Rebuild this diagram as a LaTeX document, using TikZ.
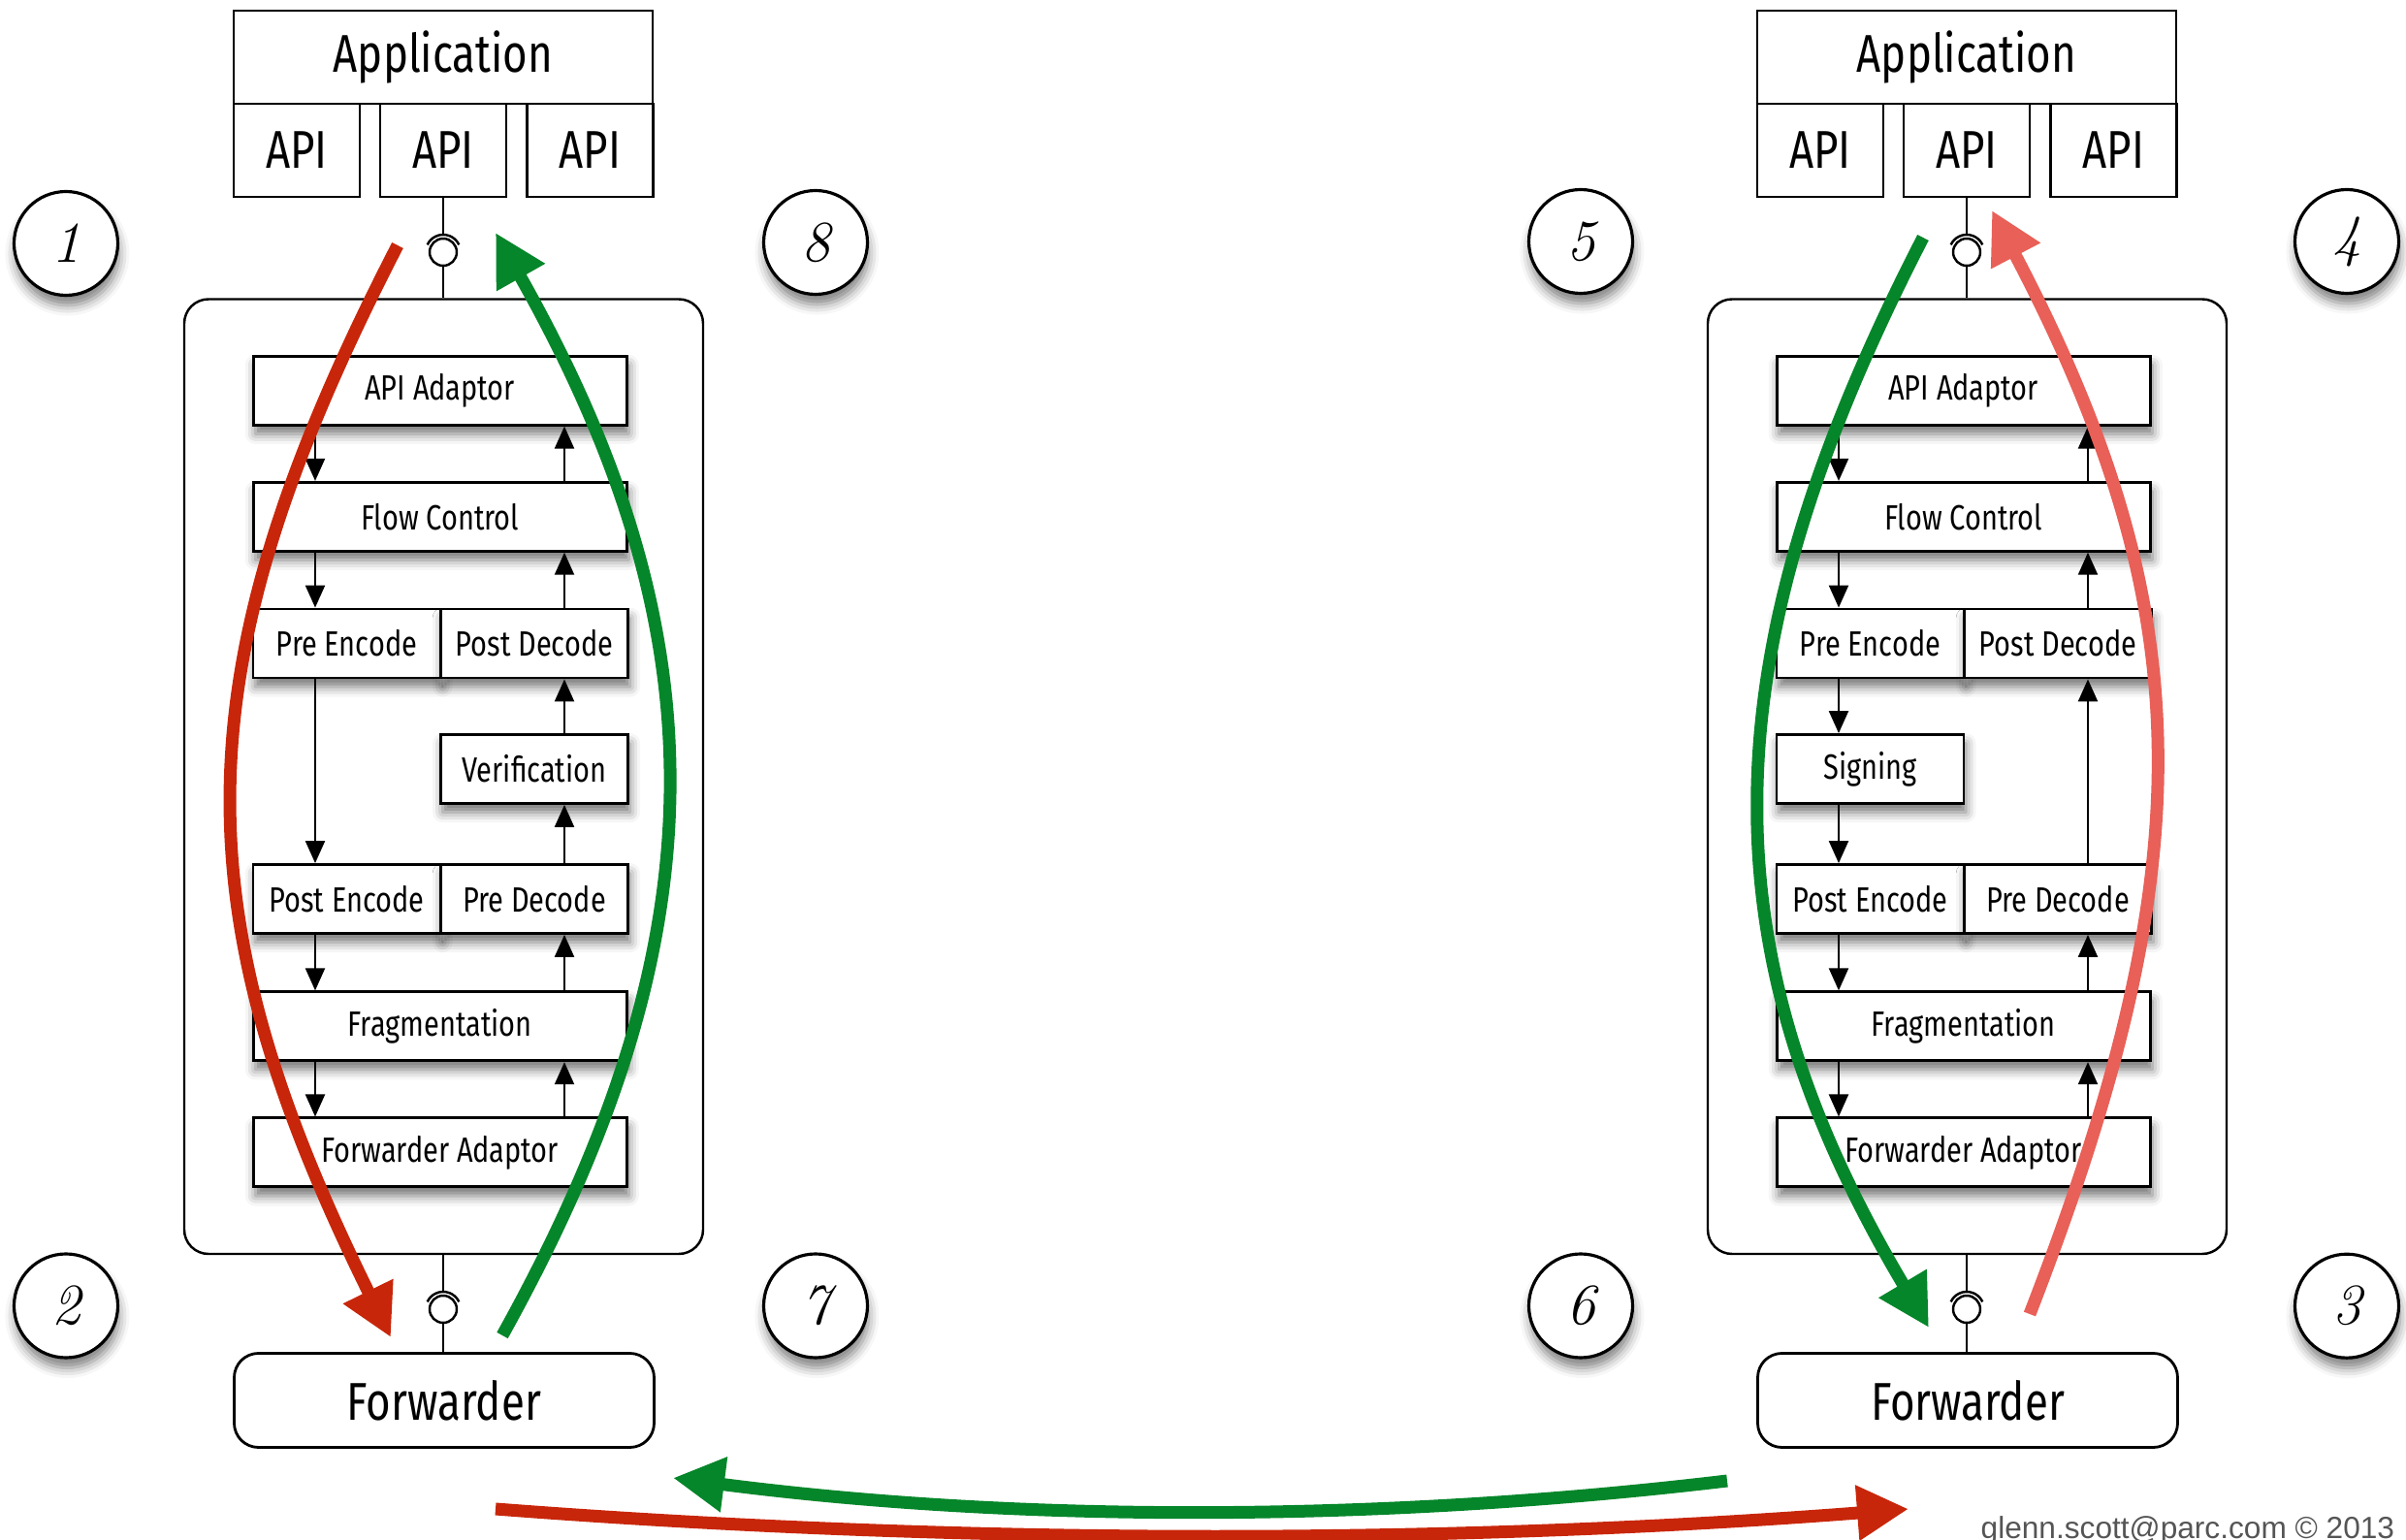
\documentclass[tikz,border=0pt]{standalone}
\usepackage{fontspec}
\usetikzlibrary{arrows.meta,shadows.blur}

\newfontfamily\labelfont[FakeStretch=0.8]{Fira Sans}
\newfontfamily\notefont{Liberation Sans}
\newcommand{\bigfont}{\labelfont\fontsize{15.6}{18}\selectfont}
\newcommand{\layerfont}{\labelfont\fontsize{10.3}{12}\selectfont}
\newcommand{\numfont}{\fontsize{17}{20}\selectfont\itshape}

\definecolor{sendred}{RGB}{200,38,10}
\definecolor{backgreen}{RGB}{5,134,42}
\definecolor{softred}{RGB}{232,96,88}
\definecolor{notegray}{RGB}{85,85,85}

\begin{document}
\begin{tikzpicture}[
appbox/.style={
  draw,
  line width=0.8pt,
  fill=white,
  inner sep=0pt,
  font=\bigfont
},
layer/.style={
  draw,
  line width=0.8pt,
  fill=white,
  inner sep=0pt,
  minimum height=0.71cm,
  font=\layerfont,
  blur shadow={shadow xshift=0.6pt,shadow yshift=-2.6pt,shadow blur radius=3pt,shadow opacity=55}
},
widelayer/.style={layer,minimum width=3.85cm},
halflayer/.style={layer,minimum width=1.93cm},
hold/.style={draw,line width=0.7pt,rounded corners=0.25cm,minimum width=5.35cm,minimum height=9.845cm},
plug/.style={circle,draw,line width=0.7pt,minimum size=0.28cm,inner sep=0pt},
wire/.style={line width=0.7pt},
flow/.style={line width=0.6pt,-{Triangle[length=0.23cm,width=0.2cm]}},
stepnum/.style={
  circle,
  draw,
  line width=0.9pt,
  fill=white,
  minimum size=1.07cm,
  inner sep=0pt,
  font=\numfont,
  blur shadow={shadow xshift=0.4pt,shadow yshift=-3pt,shadow blur radius=3pt,shadow opacity=50}
},
trip/.style={line width=0.13cm,-{Triangle[length=0.53cm,width=0.54cm]}}
]

\useasboundingbox (0,0) rectangle (24.81,-15.88);

% left host
\node (lhold) at (4.575,-8.0075) [hold] {};

\node (lapiad) at (4.537,-4.027) [widelayer] {API Adaptor};
\node (lflow) at (4.537,-5.328) [widelayer] {Flow Control};
\node (lpreenc) at (3.575,-6.635) [halflayer] {Pre Encode};
\node (lpostdec) at (5.51,-6.635) [halflayer] {Post Decode};
\node (lverify) at (5.51,-7.93) [halflayer] {Verification};
\node (lpostenc) at (3.575,-9.27) [halflayer] {Post Encode};
\node (lpredec) at (5.51,-9.27) [halflayer] {Pre Decode};
\node (lfrag) at (4.537,-10.583) [widelayer] {Fragmentation};
\node (lfwdad) at (4.537,-11.884) [widelayer] {Forwarder Adaptor};

\coordinate (ldown) at (3.25,0);
\coordinate (lup) at (5.82,0);

\draw [flow] (lapiad.south -| ldown) -- (lflow.north -| ldown);
\draw [flow] (lflow.south -| ldown) -- (lpreenc.north -| ldown);
\draw [flow] (lpreenc.south -| ldown) -- (lpostenc.north -| ldown);
\draw [flow] (lpostenc.south -| ldown) -- (lfrag.north -| ldown);
\draw [flow] (lfrag.south -| ldown) -- (lfwdad.north -| ldown);

\draw [flow] (lfwdad.north -| lup) -- (lfrag.south -| lup);
\draw [flow] (lfrag.north -| lup) -- (lpredec.south -| lup);
\draw [flow] (lpredec.north -| lup) -- (lverify.south -| lup);
\draw [flow] (lverify.north -| lup) -- (lpostdec.south -| lup);
\draw [flow] (lpostdec.north -| lup) -- (lflow.south -| lup);
\draw [flow] (lflow.north -| lup) -- (lapiad.south -| lup);

\node (lapp) at (4.57,-0.59) [appbox,minimum width=4.32cm,minimum height=0.96cm] {Application};
\node (lapiA) at (3.06,-1.55) [appbox,minimum width=1.3cm,minimum height=0.96cm] {API};
\node (lapiB) at (4.57,-1.55) [appbox,minimum width=1.3cm,minimum height=0.96cm] {API};
\node (lapiC) at (6.085,-1.55) [appbox,minimum width=1.3cm,minimum height=0.96cm] {API};

\node (lfwd) at (4.58,-14.44) [appbox,rounded corners=0.25cm,minimum width=4.33cm,minimum height=0.97cm] {Forwarder};

\node (lplugT) at (4.57,-2.60) [plug] {};
\draw [wire] (lapiB.south) -- ([yshift=0.18cm]lplugT.center);
\draw [wire] ([shift={(25:0.18)}]lplugT.center) arc (25:155:0.18);
\draw [wire] (lplugT.south) -- (lplugT.south |- lhold.north);

\node (lplugB) at (4.57,-13.50) [plug] {};
\draw [wire] (lplugB.center |- lhold.south) -- ([yshift=0.18cm]lplugB.center);
\draw [wire] ([shift={(25:0.18)}]lplugB.center) arc (25:155:0.18);
\draw [wire] (lplugB.south) -- (lplugB.south |- lfwd.north);

% right host
\node (rhold) at (20.285,-8.0075) [hold] {};

\node (rapiad) at (20.247,-4.027) [widelayer] {API Adaptor};
\node (rflow) at (20.247,-5.328) [widelayer] {Flow Control};
\node (rpreenc) at (19.285,-6.635) [halflayer] {Pre Encode};
\node (rpostdec) at (21.22,-6.635) [halflayer] {Post Decode};
\node (rsign) at (19.285,-7.93) [halflayer] {Signing};
\node (rpostenc) at (19.285,-9.27) [halflayer] {Post Encode};
\node (rpredec) at (21.22,-9.27) [halflayer] {Pre Decode};
\node (rfrag) at (20.247,-10.583) [widelayer] {Fragmentation};
\node (rfwdad) at (20.247,-11.884) [widelayer] {Forwarder Adaptor};

\coordinate (rdown) at (18.96,0);
\coordinate (rup) at (21.53,0);

\draw [flow] (rapiad.south -| rdown) -- (rflow.north -| rdown);
\draw [flow] (rflow.south -| rdown) -- (rpreenc.north -| rdown);
\draw [flow] (rpreenc.south -| rdown) -- (rsign.north -| rdown);
\draw [flow] (rsign.south -| rdown) -- (rpostenc.north -| rdown);
\draw [flow] (rpostenc.south -| rdown) -- (rfrag.north -| rdown);
\draw [flow] (rfrag.south -| rdown) -- (rfwdad.north -| rdown);

\draw [flow] (rfwdad.north -| rup) -- (rfrag.south -| rup);
\draw [flow] (rfrag.north -| rup) -- (rpredec.south -| rup);
\draw [flow] (rpredec.north -| rup) -- (rpostdec.south -| rup);
\draw [flow] (rpostdec.north -| rup) -- (rflow.south -| rup);
\draw [flow] (rflow.north -| rup) -- (rapiad.south -| rup);

\node (rapp) at (20.28,-0.59) [appbox,minimum width=4.32cm,minimum height=0.96cm] {Application};
\node (rapiA) at (18.77,-1.55) [appbox,minimum width=1.3cm,minimum height=0.96cm] {API};
\node (rapiB) at (20.28,-1.55) [appbox,minimum width=1.3cm,minimum height=0.96cm] {API};
\node (rapiC) at (21.795,-1.55) [appbox,minimum width=1.3cm,minimum height=0.96cm] {API};

\node (rfwd) at (20.29,-14.44) [appbox,rounded corners=0.25cm,minimum width=4.33cm,minimum height=0.97cm] {Forwarder};

\node (rplugT) at (20.28,-2.60) [plug] {};
\draw [wire] (rapiB.south) -- ([yshift=0.18cm]rplugT.center);
\draw [wire] ([shift={(25:0.18)}]rplugT.center) arc (25:155:0.18);
\draw [wire] (rplugT.south) -- (rplugT.south |- rhold.north);

\node (rplugB) at (20.28,-13.50) [plug] {};
\draw [wire] (rplugB.center |- rhold.south) -- ([yshift=0.18cm]rplugB.center);
\draw [wire] ([shift={(25:0.18)}]rplugB.center) arc (25:155:0.18);
\draw [wire] (rplugB.south) -- (rplugB.south |- rfwd.north);

% step numbers
\node (n1) at (0.68,-2.51) [stepnum] {1};
\node (n8) at (8.41,-2.50) [stepnum] {8};
\node (n2) at (0.68,-13.465) [stepnum] {2};
\node (n7) at (8.41,-13.465) [stepnum] {7};
\node (n5) at (16.30,-2.49) [stepnum] {5};
\node (n4) at (24.20,-2.49) [stepnum] {4};
\node (n6) at (16.30,-13.465) [stepnum] {6};
\node (n3) at (24.20,-13.467) [stepnum] {3};

% round trip
\coordinate (redA) at (4.10,-2.53);
\coordinate (redB) at (4.03,-13.79);
\coordinate (grnA) at (5.18,-13.77);
\coordinate (grnB) at (5.11,-2.40);
\coordinate (rgrnA) at (19.83,-2.45);
\coordinate (rgrnB) at (19.89,-13.69);
\coordinate (rredA) at (20.93,-13.55);
\coordinate (rredB) at (20.54,-2.17);

\draw [trip,sendred] (redA) .. controls (1.845,-6.91) and (1.845,-9.36) .. (redB);
\draw [trip,backgreen] (grnA) .. controls (7.458,-9.67) and (7.458,-6.556) .. (grnB);
\draw [trip,backgreen] (rgrnA) .. controls (17.58,-6.815) and (17.58,-9.80) .. (rgrnB);
\draw [trip,softred] (rredA) .. controls (22.72,-8.93) and (22.72,-6.325) .. (rredB);

\coordinate (wireA) at (5.11,-15.56);
\coordinate (wireB) at (19.68,-15.56);
\coordinate (wireC) at (17.81,-15.27);
\coordinate (wireD) at (6.94,-15.24);

\draw [trip,backgreen] (wireC) .. controls (14.2,-15.70) and (10.5,-15.70) .. (wireD);
\draw [trip,sendred] (wireA) .. controls (9.9,-15.93) and (14.9,-15.93) .. (wireB);

\node (credit) at (20.42,-15.86) [anchor=base west,inner sep=0pt,font=\notefont\fontsize{9}{11}\selectfont,text=notegray] {glenn.scott@parc.com © 2013};

\end{tikzpicture}
\end{document}
